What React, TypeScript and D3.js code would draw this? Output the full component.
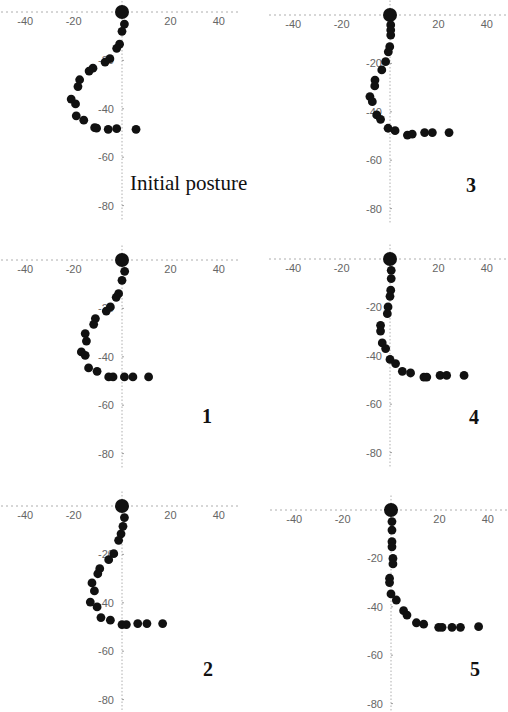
import * as d3 from 'd3'

// posture points (cm), first point is the head
const initX = [0, 1, 0, -1, -2.2, -5, -7, -12, -13.6, -17.5, -18.2, -21, -19.2, -18.9, -15.8, -11.3, -10.5, -5.7, -2.2, 5.8]
const initY = [0, -5, -8, -13.3, -15, -19.3, -20.7, -23.2, -24.4, -28, -30.8, -36, -38, -42.9, -44.7, -47.8, -48, -48.5, -48.2, -48.5]

const p1X = [0, 1.1, 0, -1.4, -2.4, -4.8, -6.5, -11, -11.7, -15.2, -14.7, -16.8, -15.2, -13.8, -10.3, -5.5, -3.7, 1, 4.5, 11]
const p1Y = [0, -4.7, -8.4, -13.9, -15.4, -19.4, -21.1, -24.2, -26.6, -30.4, -33.5, -38, -39.4, -44.6, -46, -48.3, -48.3, -48.3, -48.3, -48.3]

const p2X = [0, 1, 0.4, -0.4, -1.4, -3.4, -5.5, -9.2, -10, -12.4, -11.4, -13.1, -10.3, -8.7, -4.8, 0, 1.8, 6.5, 10.3, 16.8]
const p2Y = [0, -4.8, -8.4, -11.5, -14.2, -19.7, -22.2, -25.9, -28, -31.8, -35.1, -39.7, -41.7, -46.1, -47.2, -49, -49, -48.6, -48.6, -48.6]

const p3X = [0, 0.3, 0.3, 0.3, -0.1, -0.7, -1.8, -3.4, -6.2, -6.3, -8.3, -7.3, -5.5, -3.9, -0.8, 2.1, 7.2, 9.2, 14.3, 17.5, 24.4]
const p3Y = [0, -4.1, -6.2, -8.3, -13.1, -15.2, -19.3, -22.7, -26.9, -29.3, -33.7, -35.8, -41.3, -43.1, -46.8, -47.8, -49.6, -49.2, -48.6, -48.6, -48.6]

const p4X = [0, 0.5, 0.5, 0.3, 0, -0.8, -1.1, -3.9, -3.9, -3.2, -1.8, 0, 2.3, 5.1, 8.5, 14, 15.2, 20.7, 23.4, 30.6]
const p4Y = [0, -4.7, -8.1, -12.9, -15.4, -19.8, -22.6, -27.4, -29.8, -34.7, -37, -41.5, -43.2, -46.4, -47.1, -48.8, -48.8, -48.1, -48.1, -48.1]

const p5X = [0, 0.4, 0.4, 0.4, 0.4, 0.8, 0.8, -0.6, -0.6, 0, 2.2, 5.2, 6.6, 10.5, 13.5, 19.7, 21.1, 25.2, 28.7, 36.2]
const p5Y = [0, -4.8, -8.3, -13.1, -15.2, -20, -22.3, -28.2, -30, -34.7, -37.2, -41.6, -43.4, -46.6, -47.2, -48.5, -48.5, -48.5, -48.5, -48.2]

const panelNames = ['Initial posture', '1', '2', '3', '4', '5']
const xTicks = [-40, -20, 20, 40]
const yTicks = [-20, -40, -60, -80]

const panelData = [
  [initX, initY],
  [p1X, p1Y],
  [p2X, p2Y],
  [p3X, p3Y],
  [p4X, p4Y],
  [p5X, p5Y],
]

// pixel origin of each panel and where its caption sits (relative to origin)
const layout = [
  { ox: 122, oy: 12, lx: 8, ly: 178, anchor: 'start', bold: false },
  { ox: 122, oy: 260, lx: 85, ly: 163, anchor: 'middle', bold: true },
  { ox: 122, oy: 506, lx: 86, ly: 170, anchor: 'middle', bold: true },
  { ox: 390, oy: 15, lx: 81, ly: 177, anchor: 'middle', bold: true },
  { ox: 390, oy: 259, lx: 84, ly: 165, anchor: 'middle', bold: true },
  { ox: 391, oy: 510, lx: 84, ly: 166, anchor: 'middle', bold: true },
]

const K = 2.42 // px per cm

const Panel = ({ i }: { i: number }) => {
  const { ox, oy, lx, ly, anchor, bold } = layout[i]
  const [xs, ys] = panelData[i]
  const x = d3.scaleLinear().domain([0, 10]).range([ox, ox + 10 * K])
  const y = d3.scaleLinear().domain([0, 10]).range([oy, oy - 10 * K])
  const pts = xs.map((v, j) => ({ x: v, y: ys[j], head: j === 0 }))
  return (
    <g>
      <line x1={x(-50)} x2={x(49)} y1={y(0)} y2={y(0)} stroke="#999" strokeWidth={0.8} strokeDasharray="2,3" />
      <line x1={x(0)} x2={x(0)} y1={y(6)} y2={y(-86)} stroke="#999" strokeWidth={0.8} strokeDasharray="1.5,2" />
      {xTicks.map((t) => (
        <text key={'x' + t} x={x(t)} y={y(0) + 13} textAnchor="middle" fontSize={11} fill="#666"
          fontFamily="Liberation Sans, Arial, sans-serif">{t < 0 ? '-' + Math.abs(t) : t}</text>
      ))}
      {yTicks.map((t) => (
        <g key={'y' + t}>
          <line x1={x(0)} x2={x(0) + 2} y1={y(t)} y2={y(t)} stroke="#888" strokeWidth={0.8} />
          <text x={x(0) - 8} y={y(t) + 4} textAnchor="end" fontSize={11} fill="#666"
            fontFamily="Liberation Sans, Arial, sans-serif">{'-' + Math.abs(t)}</text>
        </g>
      ))}
      {pts.map((p, j) => (
        <circle key={j} cx={x(p.x)} cy={y(p.y)} r={p.head ? 7 : 4.4} fill="#111" />
      ))}
      <text x={ox + lx} y={oy + ly} textAnchor={anchor} fontSize={bold ? 20 : 21}
        fontWeight={bold ? 'bold' : 'normal'} fontFamily="Liberation Serif, Times New Roman, serif" fill="#111">
        {panelNames[i]}
      </text>
    </g>
  )
}

export default function App() {
  return (
    <svg width={508} height={712} style={{ position: 'absolute', left: 0, top: 0, background: '#fff' }}>
      <rect width={508} height={712} fill="#fff" />
      {panelNames.map((_, i) => (
        <Panel key={i} i={i} />
      ))}
    </svg>
  )
}
